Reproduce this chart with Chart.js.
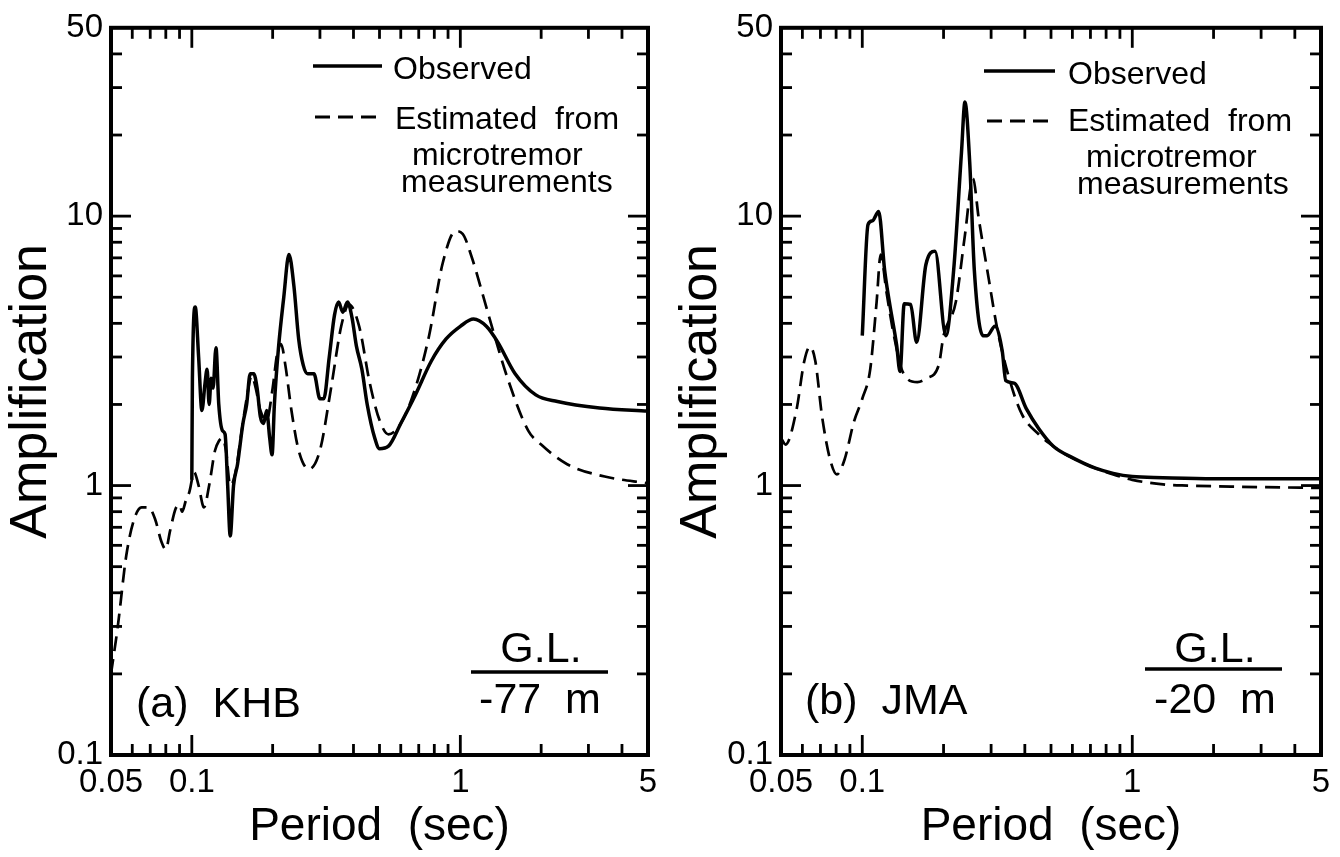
<!DOCTYPE html>
<html>
<head>
<meta charset="utf-8">
<script src="https://cdn.jsdelivr.net/npm/chart.js@4.4.0/dist/chart.umd.min.js"></script>
<style>
    html, body { margin: 0; padding: 0; background: #fff; }
    #wrap { position: relative; width: 1340px; height: 857px; }
    .panel { position: absolute; top: 0; width: 670px; height: 857px; }
</style>
</head>
<body>
<div id="wrap">
    <div class="panel" style="left:0"><canvas id="khbChart" width="670" height="857"></canvas></div>
    <div class="panel" style="left:670px"><canvas id="jmaChart" width="670" height="857"></canvas></div>
</div>
<script>
// --- Data ---
// (a) KHB, observed
const khbObsPeriod = [0.1, 0.1005, 0.103, 0.106, 0.109, 0.112, 0.114, 0.116, 0.118, 0.12, 0.123, 0.126, 0.13, 0.133, 0.136, 0.139, 0.143, 0.148, 0.155, 0.16, 0.165, 0.17, 0.175, 0.18, 0.185, 0.19, 0.195, 0.199, 0.203, 0.21, 0.22, 0.23, 0.24, 0.25, 0.26, 0.27, 0.285, 0.3, 0.31, 0.325, 0.34, 0.352, 0.365, 0.38, 0.395, 0.41, 0.43, 0.45, 0.48, 0.5, 0.54, 0.6, 0.68, 0.78, 0.885, 1.0, 1.12, 1.25, 1.38, 1.6, 1.91, 2.3, 3.3, 5];
const khbObsAmp = [1.05, 2.5, 4.6, 3.0, 1.9, 2.4, 2.7, 2.0, 2.5, 2.3, 3.25, 2.0, 1.6, 1.55, 1.0, 0.65, 1.0, 1.2, 1.7, 2.0, 2.6, 2.6, 2.3, 1.8, 1.7, 1.9, 1.5, 1.3, 2.0, 3.2, 5.0, 7.2, 5.5, 3.5, 2.8, 2.6, 2.6, 2.1, 2.1, 3.0, 4.3, 4.8, 4.4, 4.8, 4.2, 3.3, 2.7, 2.0, 1.5, 1.37, 1.4, 1.7, 2.17, 2.9, 3.5, 3.9, 4.15, 3.9, 3.4, 2.6, 2.17, 2.05, 1.94, 1.89];
// (a) KHB, estimated from microtremor
const khbEstPeriod = [0.05, 0.053, 0.057, 0.061, 0.065, 0.069, 0.073, 0.077, 0.08, 0.083, 0.087, 0.09, 0.092, 0.095, 0.098, 0.102, 0.106, 0.111, 0.116, 0.122, 0.126, 0.13, 0.134, 0.139, 0.145, 0.152, 0.16, 0.167, 0.173, 0.18, 0.19, 0.2, 0.208, 0.215, 0.223, 0.235, 0.25, 0.273, 0.3, 0.33, 0.36, 0.385, 0.42, 0.46, 0.5, 0.54, 0.6, 0.68, 0.765, 0.86, 0.96, 1.02, 1.1, 1.2, 1.33, 1.5, 1.79, 2.0, 2.5, 3.45, 5];
const khbEstAmp = [0.2, 0.3, 0.55, 0.75, 0.83, 0.83, 0.75, 0.62, 0.58, 0.68, 0.82, 0.85, 0.8, 0.88, 0.95, 1.12, 1.0, 0.83, 1.0, 1.35, 1.46, 1.5, 1.35, 1.0, 1.1, 1.5, 2.1, 2.55, 2.3, 1.9, 1.75, 2.3, 3.1, 3.35, 2.8, 1.9, 1.35, 1.15, 1.35, 2.3, 3.9, 4.7, 3.9, 2.4, 1.75, 1.55, 1.7, 2.3, 3.6, 6.7, 8.8, 8.6, 7.1, 5.3, 3.7, 2.5, 1.6, 1.42, 1.2, 1.08, 1.02];
// (b) JMA, observed
const jmaObsPeriod = [0.1, 0.105, 0.109, 0.115, 0.121, 0.126, 0.134, 0.138, 0.143, 0.151, 0.159, 0.172, 0.186, 0.204, 0.218, 0.233, 0.24, 0.25, 0.26, 0.28, 0.29, 0.31, 0.33, 0.34, 0.365, 0.405, 0.45, 0.51, 0.6, 0.73, 0.85, 1.0, 1.3, 2.0, 5];
const jmaObsAmp = [3.6, 9.3, 9.6, 10.4, 6.3, 4.8, 3.33, 2.65, 4.73, 4.7, 3.4, 6.6, 7.4, 3.6, 6.3, 17.2, 26.5, 15.8, 6.3, 3.6, 3.6, 3.9, 3.15, 2.45, 2.4, 1.93, 1.63, 1.4, 1.27, 1.16, 1.11, 1.08, 1.07, 1.06, 1.06];
// (b) JMA, estimated from microtremor
const jmaEstPeriod = [0.05, 0.052, 0.057, 0.061, 0.064, 0.067, 0.071, 0.076, 0.0805, 0.086, 0.0932, 0.1, 0.107, 0.113, 0.117, 0.123, 0.131, 0.141, 0.16, 0.173, 0.192, 0.2, 0.222, 0.24, 0.257, 0.27, 0.294, 0.316, 0.35, 0.39, 0.45, 0.5, 0.57, 0.7, 0.85, 1.0, 1.3, 1.6, 2.5, 5];
const jmaEstAmp = [1.5, 1.42, 1.9, 2.9, 3.28, 2.9, 1.8, 1.25, 1.1, 1.25, 1.73, 2.1, 2.7, 4.8, 7.2, 5.2, 3.6, 2.65, 2.42, 2.5, 2.8, 3.6, 4.8, 8.5, 13.8, 9.8, 5.85, 3.83, 2.5, 1.84, 1.55, 1.42, 1.3, 1.18, 1.1, 1.05, 1.01, 1.0, 0.99, 0.98];

// axis ticks and labels
const xTickLabels = [0.05, 0.1, 1, 5];
const yTickLabels = [0.1, 1, 10, 50];
const xMajorTicks = [0.1, 1];
const xMinorTicks = [0.06, 0.07, 0.08, 0.09, 0.2, 0.3, 0.4, 0.5, 0.6, 0.7, 0.8, 0.9, 2, 3, 4];
const yMajorTicks = [1, 10];
const yMinorTicks = [0.2, 0.3, 0.4, 0.5, 0.6, 0.7, 0.8, 0.9, 2, 3, 4, 5, 6, 7, 8, 9, 20, 30, 40];

const FONT = "'Liberation Sans', Arial, Helvetica, sans-serif";

function toPoints(xs, ys) {
    return xs.map((x, i) => ({ x: x, y: ys[i] }));
}

// --- Frame, inward ticks and in-panel text ---
const framePlugin = {
    id: 'frame',
    afterDraw(chart, args, opts) {
        const { ctx, chartArea: a, scales: { x, y } } = chart;
        ctx.save();
        ctx.strokeStyle = '#000';
        ctx.fillStyle = '#000';
        ctx.lineCap = 'butt';

        const seg = (x1, y1, x2, y2) => {
            ctx.beginPath(); ctx.moveTo(x1, y1); ctx.lineTo(x2, y2); ctx.stroke();
        };

        ctx.lineWidth = 2.8;
        xMinorTicks.forEach(v => {
            const p = x.getPixelForValue(v);
            seg(p, a.bottom, p, a.bottom - 11);
            seg(p, a.top, p, a.top + 11);
        });
        xMajorTicks.forEach(v => {
            const p = x.getPixelForValue(v);
            seg(p, a.bottom, p, a.bottom - 20);
            seg(p, a.top, p, a.top + 20);
        });
        yMinorTicks.forEach(v => {
            const p = y.getPixelForValue(v);
            seg(a.left, p, a.left + 11, p);
            seg(a.right, p, a.right - 11, p);
        });
        yMajorTicks.forEach(v => {
            const p = y.getPixelForValue(v);
            seg(a.left, p, a.left + 20, p);
            seg(a.right, p, a.right - 20, p);
        });

        ctx.lineWidth = 4;
        ctx.strokeRect(a.left, a.top, a.width, a.height);

        // legend
        const n = opts.notes;
        ctx.lineWidth = 3.4;
        seg(n.solid[0], n.solid[2], n.solid[1], n.solid[2]);
        ctx.lineWidth = 2.8;
        ctx.setLineDash([15, 8]);
        seg(n.dash[0], n.dash[2], n.dash[1], n.dash[2]);
        ctx.setLineDash([]);

        ctx.textBaseline = 'middle';
        ctx.textAlign = 'left';
        ctx.font = '32px ' + FONT;
        ctx.fillText('Observed', n.obs[0], n.obs[1]);
        ctx.fillText('Estimated  from', n.est[0], n.est[1]);
        ctx.fillText('microtremor', n.micro[0], n.micro[1]);
        ctx.fillText('measurements', n.meas[0], n.meas[1]);

        // site name and depth
        ctx.font = '43px ' + FONT;
        ctx.fillText(n.name, n.nameAt[0], n.nameAt[1]);
        ctx.textAlign = 'center';
        ctx.fillText('G.L.', n.glAt[0], n.glAt[1]);
        ctx.fillText(n.depth, n.depthAt[0], n.depthAt[1]);
        ctx.lineWidth = 3.4;
        seg(n.bar[0], n.bar[2], n.bar[1], n.bar[2]);
        ctx.restore();
    }
};

function makeChart(id, obsX, obsY, estX, estY, notes, padRight) {
    const ctx = document.getElementById(id).getContext('2d');
    return new Chart(ctx, {
        type: 'line',
        data: {
            datasets: [
                {
                    label: 'Observed',
                    data: toPoints(obsX, obsY),
                    borderColor: '#000',
                    borderWidth: 3.5,
                    pointRadius: 0,
                    fill: false,
                    cubicInterpolationMode: 'monotone'
                },
                {
                    label: 'Estimated from microtremor measurements',
                    data: toPoints(estX, estY),
                    borderColor: '#000',
                    borderWidth: 2.7,
                    borderDash: [15, 8],
                    pointRadius: 0,
                    fill: false,
                    cubicInterpolationMode: 'monotone'
                }
            ]
        },
        options: {
            responsive: false,
            animation: false,
            devicePixelRatio: 1,
            layout: { padding: { top: 25, right: padRight, left: 0, bottom: 0 } },
            plugins: {
                legend: { display: false },
                tooltip: { enabled: false },
                frame: { notes: notes }
            },
            scales: {
                x: {
                    type: 'logarithmic',
                    min: 0.05,
                    max: 5,
                    grid: { display: false, drawTicks: false },
                    border: { display: false },
                    afterBuildTicks: s => { s.ticks = xTickLabels.map(v => ({ value: v })); },
                    afterFit: s => { s.height = 102; },
                    ticks: {
                        color: '#000',
                        font: { family: FONT, size: 33 },
                        padding: 8,
                        maxRotation: 0,
                        autoSkip: false,
                        callback: v => String(v)
                    },
                    title: {
                        display: true,
                        text: 'Period  (sec)',
                        color: '#000',
                        font: { family: FONT, size: 46 },
                        padding: { top: 0, bottom: 2 }
                    }
                },
                y: {
                    type: 'logarithmic',
                    min: 0.1,
                    max: 50,
                    grid: { display: false, drawTicks: false },
                    border: { display: false },
                    afterBuildTicks: s => { s.ticks = yTickLabels.map(v => ({ value: v })); },
                    afterFit: s => { s.width = 111; },
                    ticks: {
                        color: '#000',
                        font: { family: FONT, size: 33 },
                        padding: 8,
                        autoSkip: false,
                        callback: v => String(v)
                    },
                    title: {
                        display: true,
                        text: 'Amplification',
                        color: '#000',
                        font: { family: FONT, size: 52 },
                        padding: { top: 0, bottom: 0 }
                    }
                }
            }
        },
        plugins: [framePlugin]
    });
}

const khbNotes = {
    solid: [313, 382, 66], obs: [393, 70],
    dash: [315, 380, 117], est: [395, 120],
    micro: [412, 156], meas: [401, 183],
    name: '(a)  KHB', nameAt: [136, 705],
    glAt: [541, 650], bar: [471, 608, 672],
    depth: '-77  m', depthAt: [540, 701]
};
const jmaNotes = {
    solid: [314, 385, 71], obs: [398, 75],
    dash: [317, 382, 121], est: [398, 122],
    micro: [416, 158], meas: [407, 185],
    name: '(b)  JMA', nameAt: [135, 702],
    glAt: [545, 650], bar: [475, 612, 669],
    depth: '-20  m', depthAt: [545, 701]
};

makeChart('khbChart', khbObsPeriod, khbObsAmp, khbEstPeriod, khbEstAmp, khbNotes, 22);
makeChart('jmaChart', jmaObsPeriod, jmaObsAmp, jmaEstPeriod, jmaEstAmp, jmaNotes, 19);
</script>
</body>
</html>
